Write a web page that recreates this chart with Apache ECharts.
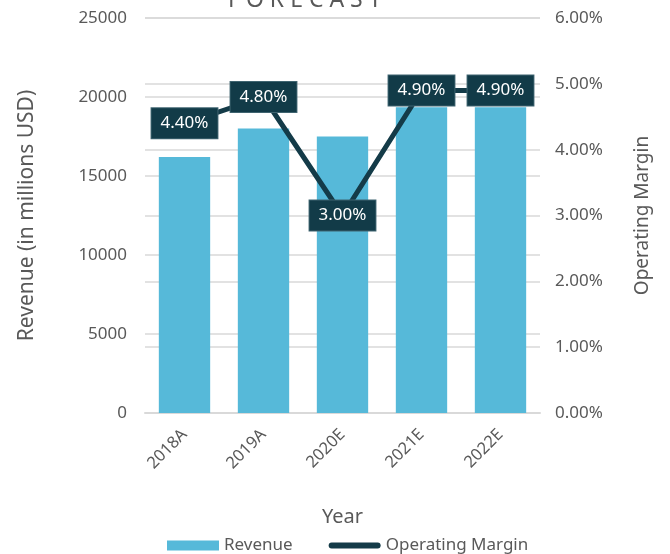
<!DOCTYPE html>
<html>
<head>
<meta charset="utf-8">
<script src="https://cdn.jsdelivr.net/npm/echarts@6/dist/echarts.min.js"></script>
<style>
  html, body { margin: 0; padding: 0; background: #fff; }
  #chart { width: 670px; height: 554px; }
</style>
</head>
<body>
<div id="chart"></div>
<script>
// chart data
var years = ['2018A', '2019A', '2020E', '2021E', '2022E']
var revenue = [16200, 18000, 17500, 19350, 19350]
var margin = [4.4, 4.8, 3.0, 4.9, 4.9]
var revenueTicks = [0, 5000, 10000, 15000, 20000, 25000]
var marginTicks = [0, 1, 2, 3, 4, 5, 6]

var txt = '#595959'
var font = 'Noto Sans'

var chart = echarts.init(document.getElementById('chart'))
chart.setOption({
  animation: false,
  textStyle: { fontFamily: font },
  title: {
    text: 'F O R E C A S T',
    left: 223,
    top: -16,
    textStyle: { fontFamily: font, fontSize: 23, fontWeight: 'normal', color: txt }
  },
  grid: { left: 145, right: 130, top: 18, bottom: 141 },
  legend: {
    bottom: -5,
    left: 162,
    itemWidth: 52,
    itemHeight: 10,
    itemGap: 36,
    textStyle: { fontSize: 17, color: txt, fontFamily: font },
    data: [
      { name: 'Revenue', icon: 'rect' },
      { name: 'Operating Margin', icon: 'path://M3,0 L49,0 A3,3 0 0 1 49,6 L3,6 A3,3 0 0 1 3,0 Z' }
    ]
  },
  xAxis: {
    type: 'category',
    data: years,
    name: 'Year',
    nameLocation: 'middle',
    nameGap: 94,
    nameTextStyle: { fontSize: 20, color: txt },
    axisLine: { lineStyle: { color: '#d9d9d9', width: 2 } },
    axisTick: { show: false },
    axisLabel: { rotate: 45, fontSize: 16.5, color: txt, margin: 19 }
  },
  yAxis: [
    {
      type: 'value',
      min: revenueTicks[0],
      max: revenueTicks[revenueTicks.length - 1],
      interval: 5000,
      name: 'Revenue (in millions USD)',
      nameLocation: 'middle',
      nameGap: 107,
      nameTextStyle: { fontSize: 21, color: txt },
      axisLine: { show: false },
      axisTick: { show: false },
      axisLabel: {
        fontSize: 17, color: txt, margin: 18,
        formatter: function (v) { return String(v) }
      },
      splitLine: { lineStyle: { color: '#d9d9d9', width: 1.5 } }
    },
    {
      type: 'value',
      min: marginTicks[0],
      max: marginTicks[marginTicks.length - 1],
      interval: 1,
      name: 'Operating Margin',
      nameLocation: 'middle',
      nameGap: 93,
      nameTextStyle: { fontSize: 19, color: txt },
      axisLine: { show: false },
      axisTick: { show: false },
      axisLabel: {
        fontSize: 17, color: txt, margin: 15,
        formatter: function (v) { return v.toFixed(2) + '%' }
      },
      splitLine: { lineStyle: { color: '#d9d9d9', width: 1.5 } }
    }
  ],
  series: [
    {
      name: 'Revenue',
      type: 'bar',
      data: revenue,
      barWidth: '65%',
      itemStyle: { color: '#56b9d9' }
    },
    {
      name: 'Operating Margin',
      type: 'line',
      yAxisIndex: 1,
      data: margin,
      symbol: 'circle',
      symbolSize: 1,
      showSymbol: true,
      lineStyle: { color: '#143b48', width: 5 },
      itemStyle: { color: '#143b48' },
      label: {
        show: true,
        position: 'inside',
        backgroundColor: '#123b48',
        borderColor: '#3f6470',
        borderWidth: 1,
        padding: [5, 9],
        lineHeight: 20,
        color: '#fff',
        fontSize: 17,
        formatter: function (p) { return p.value.toFixed(2) + '%' }
      },
      z: 5
    }
  ]
})
</script>
</body>
</html>
